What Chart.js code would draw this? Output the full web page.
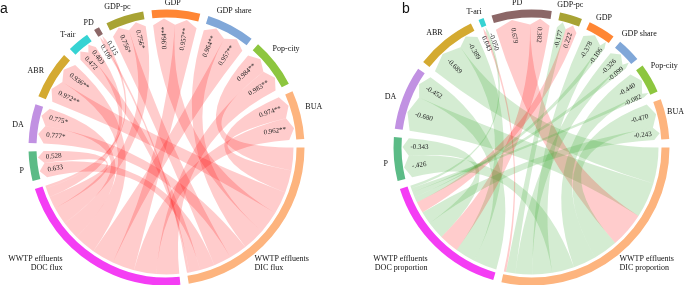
<!DOCTYPE html>
<html>
<head>
<meta charset="utf-8">
<title>WWTP effluents chord diagrams</title>
<script src="https://cdn.jsdelivr.net/npm/chart.js@4.4.0/dist/chart.umd.min.js"></script>
<style>
  body { margin: 0; background: #fff; }
  #wrap { position: relative; width: 685px; height: 285px; overflow: hidden; }
  #chartA, #chartB { position: absolute; top: 0; }
</style>
</head>
<body>
<div id="wrap">
  <canvas id="chartA" width="342" height="285" style="left:0"></canvas>
  <canvas id="chartB" width="343" height="285" style="left:342px"></canvas>
</div>
<script>
// panel a: correlations with WWTP effluent DIC / DOC flux
const varsA = ["P", "DA", "ABR", "T-air", "PD", "GDP-pc", "GDP", "GDP share", "Pop-city", "BUA"];
const dicFluxA = [0.633, 0.777, 0.972, 0.472, 0.106, 0.756, 0.964, 0.964, 0.984, 0.974];
const docFluxA = [0.528, 0.775, 0.936, 0.403, 0.115, 0.756, 0.957, 0.957, 0.983, 0.962];
const dicTextA = ["0.633", "0.777*", "0.972**", "0.472", "0.106", "0.756*", "0.964**", "0.964**", "0.984**", "0.974**"];
const docTextA = ["0.528", "0.775*", "0.936**", "0.403", "0.115", "0.756*", "0.957**", "0.957**", "0.983**", "0.962**"];

// panel b: correlations with WWTP effluent DIC / DOC proportion
const varsB = ["P", "DA", "ABR", "T-ari", "PD", "GDP-pc", "GDP", "GDP share", "Pop-city", "BUA"];
const dicPropB = [-0.426, -0.680, -0.689, 0.043, 0.679, -0.177, -0.378, -0.326, -0.440, -0.470];
const docPropB = [-0.343, -0.452, -0.389, -0.050, 0.382, 0.222, -0.106, -0.099, -0.082, -0.243];
const dicTextB = ["-.426", "-0.680", "-0.689", "0.043", "0.679", "-0.177", "-0.378", "-0.326", "-0.440", "-0.470"];
const docTextB = ["-0.343", "-0.452", "-0.389", "-0.050", "0.382", "0.222", "-0.106", "-0.099", "-0.082", "-0.243"];

// DIC, DOC, then the variables in the same order as above
const ringColors = ["#FDB47E", "#F43DF4", "#5BBB86", "#C191E2", "#D4AA31", "#36D3D3", "#8C6767",
                    "#A8A334", "#FF8634", "#80A7D8", "#8DC63F", "#FDB47E"];

const GAP_DEG = 3.5;
const OUTER_R = 138;
const INNER_R = 130;
const LABEL_R = INNER_R - 9;
const SERIF = '"Liberation Serif", "Times New Roman", serif';

const sum = a => a.reduce((s, v) => s + v, 0);

function ribbon(ctx, cx, cy, src, dst) {
  const pt = (ang, r) => [cx + r * Math.cos(ang), cy + r * Math.sin(ang)];
  const rs = INNER_R - 3, rt = INNER_R - 1, arrow = 6;
  ctx.beginPath();
  ctx.arc(cx, cy, rs, src[0], src[1]);
  let p = pt(dst[0], rt - arrow);
  ctx.quadraticCurveTo(cx, cy, p[0], p[1]);
  p = pt((dst[0] + dst[1]) / 2, rt);
  ctx.lineTo(p[0], p[1]);
  p = pt(dst[1], rt - arrow);
  ctx.lineTo(p[0], p[1]);
  p = pt(src[0], rs);
  ctx.quadraticCurveTo(cx, cy, p[0], p[1]);
  ctx.closePath();
  ctx.fill();
}

function chordPlugin(cfg) {
  const sectors = chart => {
    const arcs = chart.getDatasetMeta(0).data;
    const out = [];
    for (let i = 0; i < arcs.length; i += 2) {
      out.push(arcs[i].getProps(['x', 'y', 'startAngle', 'endAngle', 'innerRadius', 'outerRadius'], true));
    }
    return out;
  };

  const links = sec => {
    const list = [];
    cfg.vars.forEach((v, j) => {
      const s = sec[j + 2];
      const a = Math.abs(cfg.dic[j]), b = Math.abs(cfg.doc[j]);
      const u = (s.endAngle - s.startAngle) / (a + b);
      const mid = (s.startAngle + s.endAngle) / 2;
      list.push({ target: 0, j, value: cfg.dic[j], text: cfg.dicText[j], dst: [s.startAngle, s.startAngle + a * u], mid });
      list.push({ target: 1, j, value: cfg.doc[j], text: cfg.docText[j], dst: [s.startAngle + a * u, s.endAngle], mid });
    });
    // in the DIC / DOC sectors the links are stacked from widest to narrowest
    [0, 1].forEach(t => {
      const s = sec[t];
      const own = list.filter(l => l.target === t)
        .sort((p, q) => Math.abs(q.value) - Math.abs(p.value) || p.j - q.j);
      const u = (s.endAngle - s.startAngle) / sum(own.map(l => Math.abs(l.value)));
      let a = s.startAngle;
      own.forEach(l => { l.src = [a, a + Math.abs(l.value) * u]; a = l.src[1]; });
    });
    return list;
  };

  return {
    id: 'chord',
    beforeDatasetsDraw(chart) {
      const sec = sectors(chart);
      const ctx = chart.ctx;
      const cx = sec[0].x, cy = sec[0].y;
      ctx.save();
      links(sec).forEach(l => {
        ctx.fillStyle = l.value >= 0 ? cfg.pos : cfg.neg;
        ribbon(ctx, cx, cy, l.src, l.dst);
      });
      ctx.restore();
    },
    afterDatasetsDraw(chart) {
      const sec = sectors(chart);
      const ctx = chart.ctx;
      const cx = sec[0].x, cy = sec[0].y;
      ctx.save();
      ctx.fillStyle = '#222';

      // link values, written radially just inside the ring
      ctx.font = '7px ' + SERIF;
      ctx.textBaseline = 'middle';
      const list = links(sec);
      const minSep = 8 / LABEL_R;
      cfg.vars.forEach((v, j) => {
        const pair = list.filter(l => l.j === j);
        let m0 = (pair[0].dst[0] + pair[0].dst[1]) / 2;
        let m1 = (pair[1].dst[0] + pair[1].dst[1]) / 2;
        if (m1 - m0 < minSep) {
          const c = (m0 + m1) / 2;
          m0 = c - minSep / 2;
          m1 = c + minSep / 2;
        }
        [m0, m1].forEach((m, k) => {
          const l = pair[k];
          ctx.save();
          ctx.translate(cx, cy);
          if (Math.cos(l.mid) > 0) {
            ctx.rotate(m);
            ctx.textAlign = 'right';
            ctx.fillText(l.text, LABEL_R, 0);
          } else {
            ctx.rotate(m + Math.PI);
            ctx.textAlign = 'left';
            ctx.fillText(l.text, -LABEL_R, 0);
          }
          ctx.restore();
        });
      });

      // variable names outside the ring
      ctx.font = '8px ' + SERIF;
      ctx.fillStyle = '#111';
      ctx.textAlign = 'center';
      const W = chart.width;
      cfg.vars.forEach((v, j) => {
        const s = sec[j + 2];
        const th = (s.startAngle + s.endAngle) / 2 - 1.5 * Math.PI / 180;
        const w = ctx.measureText(v).width;
        const rho = s.outerRadius + 6.5 + Math.abs(Math.cos(th)) * w / 2;
        const x = Math.min(cx + rho * Math.cos(th), W - 1 - w / 2);
        ctx.fillText(v, x, cy + rho * Math.sin(th));
      });

      // WWTP effluent names under the big sectors
      ctx.textBaseline = 'alphabetic';
      ctx.textAlign = 'left';
      cfg.dicName.forEach((t, k) => ctx.fillText(t, cx + 88, cy + 113.5 + 9 * k));
      ctx.textAlign = 'right';
      cfg.docName.forEach((t, k) => ctx.fillText(t, cx - 104, cy + 113.5 + 9 * k));

      // panel letter
      ctx.font = '14px "Liberation Sans", Arial, sans-serif';
      ctx.textAlign = 'left';
      ctx.fillText(cfg.letter, cfg.letterX, 12.5);
      ctx.restore();
    }
  };
}

function buildPanel(canvasId, cfg) {
  const absDic = cfg.dic.map(Math.abs);
  const absDoc = cfg.doc.map(Math.abs);
  const sizes = [sum(absDic), sum(absDoc)].concat(cfg.vars.map((v, j) => absDic[j] + absDoc[j]));
  const gap = sum(sizes) * GAP_DEG / (360 - GAP_DEG * sizes.length);
  const names = [cfg.dicName.join(' '), cfg.docName.join(' ')].concat(cfg.vars);

  const data = [], colors = [], labels = [];
  sizes.forEach((s, i) => {
    data.push(s, gap);
    colors.push(ringColors[i], 'rgba(0,0,0,0)');
    labels.push(names[i], '');
  });

  return new Chart(document.getElementById(canvasId), {
    type: 'doughnut',
    data: {
      labels: labels,
      datasets: [{
        data: data,
        backgroundColor: colors,
        borderWidth: 0,
        hoverOffset: 0,
        radius: OUTER_R,
        cutout: (INNER_R / OUTER_R * 100) + '%'
      }]
    },
    options: {
      responsive: false,
      animation: false,
      events: [],
      rotation: 90,
      layout: { padding: cfg.padding },
      plugins: { legend: { display: false }, tooltip: { enabled: false } }
    },
    plugins: [chordPlugin(cfg)]
  });
}

buildPanel('chartA', {
  vars: varsA, dic: dicFluxA, doc: docFluxA, dicText: dicTextA, docText: docTextA,
  dicName: ["WWTP effluents", "DIC flux"], docName: ["WWTP effluents", "DOC flux"],
  pos: 'rgba(255, 0, 0, 0.2)', neg: 'rgba(60, 170, 50, 0.22)',
  letter: 'a', letterX: 0,
  padding: { left: 0, right: 9, top: 10, bottom: 0 }
});

buildPanel('chartB', {
  vars: varsB, dic: dicPropB, doc: docPropB, dicText: dicTextB, docText: docTextB,
  dicName: ["WWTP effluents", "DIC proportion"], docName: ["WWTP effluents", "DOC proportion"],
  pos: 'rgba(255, 0, 0, 0.2)', neg: 'rgba(60, 170, 50, 0.22)',
  letter: 'b', letterX: 60,
  padding: { left: 36, right: 0, top: 10, bottom: 0 }
});
</script>
</body>
</html>
